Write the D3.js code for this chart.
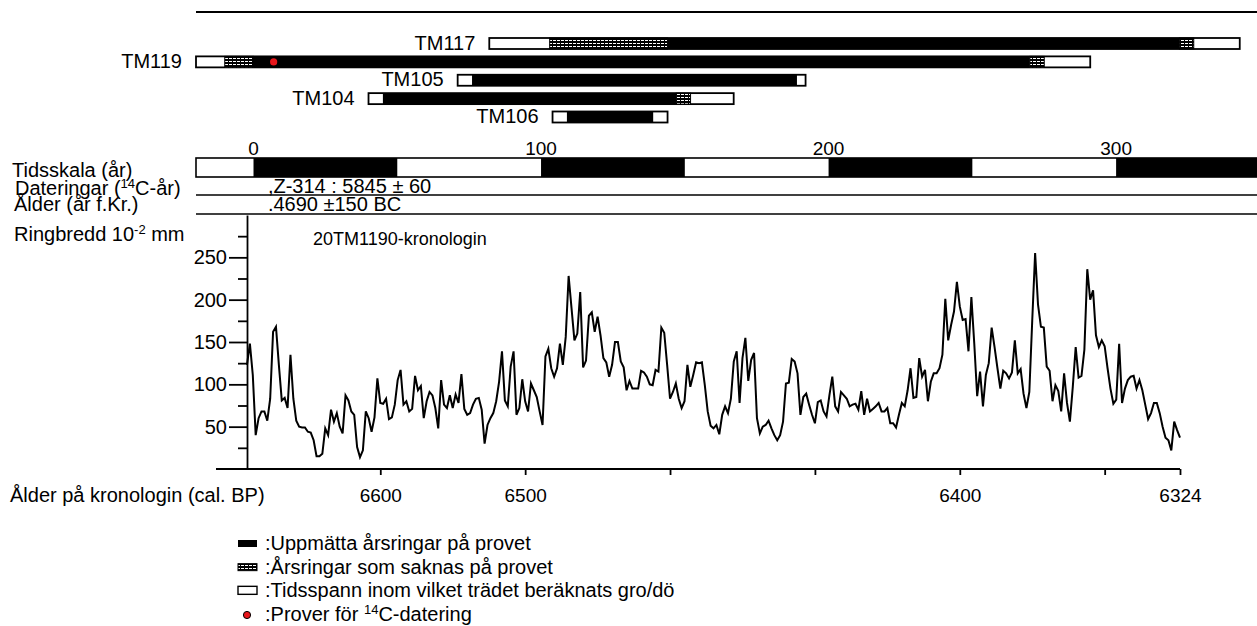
<!DOCTYPE html>
<html>
<head>
<meta charset="utf-8">
<script src="https://cdn.jsdelivr.net/npm/d3@7"></script>
<style>
  body { margin: 0; background: #fff; }
  text { font-family: "Liberation Sans", Arial, sans-serif; fill: #000; }
</style>
</head>
<body>
<svg id="chart" width="1257" height="626"></svg>
<script>
// Ring widths (10^-2 mm) of the 20TM1190 chronology, one value per year,
// from the oldest ring (6646 cal. BP) to the youngest (6324 cal. BP).
const ringWidth = [
  123,148,111,40,60,68,68,57,83,162, 168,123,81,84,72,135,83,57,50,49,
  49,44,43,34,15,15,18,48,40,70, 56,66,50,42,87,81,68,64,26,14,
  22,68,60,44,61,107,78,77,83,59, 61,76,105,117,76,80,68,71,110,93,
  98,60,80,91,87,72,48,105,76,72, 87,72,88,78,112,71,64,66,76,83,
  84,70,30,52,60,66,80,103,139,81, 74,121,139,64,72,106,80,68,101,93,
  85,68,52,133,142,119,109,119,148,123, 156,228,190,152,160,209,120,128,181,185,
  162,180,158,131,126,109,123,150,150,127, 120,93,104,95,95,95,116,114,109,100,
  99,117,115,167,161,123,83,91,101,83, 72,80,123,97,111,126,125,126,99,68,
  51,48,52,41,64,74,66,83,127,139, 78,131,155,104,129,137,60,42,50,52,
  57,48,40,34,40,56,101,102,130,127, 113,64,85,89,76,64,54,79,81,68,
  62,87,109,74,68,91,87,83,74,76, 77,70,92,64,83,68,71,74,78,68,
  68,72,54,54,49,64,78,74,93,119, 84,85,131,109,117,80,103,113,113,119,
  135,201,152,170,186,221,192,176,177,139, 203,148,86,115,74,111,125,167,144,119,
  95,116,113,107,114,152,113,118,89,72, 91,175,255,194,168,167,121,116,80,99,
  92,68,113,78,56,97,144,108,110,141, 236,200,211,158,144,152,145,119,95,77,
  82,148,78,95,105,109,110,95,105,93, 76,59,66,78,78,66,50,37,34,22,
  56,46,37
];
const chronoStartBP = 6646;
const chronoEndBP = 6324;

// Dated samples, positions in years on the time scale (0 = first ring of the chronology)
const samples       = ["TM117", "TM119", "TM105", "TM104", "TM106"];
const spanStart     = [82, -20, 71, 40, 104];   // earliest estimated germination
const missingStart  = [103, -10, 76, 45, 109];  // start of rings missing on the sample
const measuredStart = [144, 0, 76, 45, 109];
const measuredEnd   = [322, 270, 189, 147, 139];
const missingEnd    = [327, 275, 189, 152, 139];
const spanEnd       = [343, 291, 192, 167, 144]; // latest estimated death
const c14Sample = "TM119";
const c14Year = 7;

// Time scale (years) and its alternating 50-year blocks
const timeDomain = [-20, 349];
const timeTicks = [0, 100, 200, 300];
const timeBlockStarts = [0, 100, 200, 300];
const timeBlockLength = 50;

// Dating rows
const datingText = ",Z-314 : 5845 \u00B1 60";
const ageText = ".4690 \u00B1150 BC";

// Ring-width axis
const ringMajorTicks = [50, 100, 150, 200, 250];
const ringMinorTicks = [25, 75, 125, 175, 225, 275];
const ringDomain = [0, 300];

// Calendar axis (cal. BP)
const bpTicks = [6600, 6550, 6500, 6450, 6400, 6350, 6324];
const bpTickLabels = ["6600", "6500", "", "", "6400", "", "6324"];

const legendLabels = [
  ":Uppm\u00E4tta \u00E5rsringar p\u00E5 provet",
  ":\u00C5rsringar som saknas p\u00E5 provet",
  ":Tidsspann inom vilket tr\u00E4det ber\u00E4knats gro/d\u00F6",
  ":Prover f\u00F6r "
];

const svg = d3.select("#chart");
const FONT = 20;

// pattern for missing rings: black grid with small white cells
const defs = svg.append("defs");
const pat = defs.append("pattern")
  .attr("id", "missing").attr("patternUnits", "userSpaceOnUse")
  .attr("width", 4).attr("height", 3);
pat.append("rect").attr("width", 4).attr("height", 3).attr("fill", "#000");
pat.append("rect").attr("x", 1).attr("y", 1).attr("width", 3).attr("height", 1).attr("fill", "#fff");

// ---------- scales ----------
const t = d3.scaleLinear().domain(timeDomain).range([196, 1257]);
const xBP = d3.scaleLinear().domain([chronoStartBP, chronoEndBP]).range([247, 1180]);
const y = d3.scaleLinear().domain(ringDomain).range([469, 215]);
const rowY = d3.scalePoint().domain(samples).range([43.5, 117]);
const barH = 11;

// ---------- top rule ----------
svg.append("line").attr("x1", t(timeDomain[0])).attr("x2", t(timeDomain[1]))
  .attr("y1", 12).attr("y2", 12).attr("stroke", "#000").attr("stroke-width", 1.8);

// ---------- sample bars ----------
const bars = svg.append("g").selectAll("g").data(samples).join("g");
bars.each(function(name, i) {
  const g = d3.select(this);
  const y0 = rowY(name) - barH / 2;
  g.append("rect").attr("x", t(spanStart[i])).attr("y", y0)
    .attr("width", t(spanEnd[i]) - t(spanStart[i])).attr("height", barH)
    .attr("fill", "#fff").attr("stroke", "#000").attr("stroke-width", 1.8);
  if (measuredStart[i] > missingStart[i]) {
    g.append("rect").attr("x", t(missingStart[i])).attr("y", y0)
      .attr("width", t(measuredStart[i]) - t(missingStart[i])).attr("height", barH)
      .attr("fill", "url(#missing)").attr("stroke", "#000").attr("stroke-width", 1);
  }
  if (missingEnd[i] > measuredEnd[i]) {
    g.append("rect").attr("x", t(measuredEnd[i])).attr("y", y0)
      .attr("width", t(missingEnd[i]) - t(measuredEnd[i])).attr("height", barH)
      .attr("fill", "url(#missing)").attr("stroke", "#000").attr("stroke-width", 1);
  }
  g.append("rect").attr("x", t(measuredStart[i])).attr("y", y0)
    .attr("width", t(measuredEnd[i]) - t(measuredStart[i])).attr("height", barH)
    .attr("fill", "#000");
  g.append("text").attr("x", t(spanStart[i]) - 14).attr("y", y0 + barH + 0.5)
    .attr("text-anchor", "end").attr("font-size", FONT).text(name);
});
svg.append("circle").attr("cx", t(c14Year)).attr("cy", rowY(c14Sample))
  .attr("r", 3.6).attr("fill", "#e8161b");

// ---------- time scale ----------
const tsTop = 158, tsH = 19;
svg.append("rect").attr("x", t(timeDomain[0])).attr("y", tsTop)
  .attr("width", t(timeDomain[1]) - t(timeDomain[0])).attr("height", tsH)
  .attr("fill", "#fff").attr("stroke", "#000").attr("stroke-width", 1.6);
svg.append("g").selectAll("rect").data(timeBlockStarts).join("rect")
  .attr("x", d => t(d)).attr("y", tsTop)
  .attr("width", d => t(Math.min(d + timeBlockLength, timeDomain[1])) - t(d))
  .attr("height", tsH).attr("fill", "#000");
svg.append("g").selectAll("text").data(timeTicks).join("text")
  .attr("x", d => t(d)).attr("y", 155).attr("text-anchor", "middle")
  .attr("font-size", 19).text(d => d);

// ---------- dating rows ----------
[195, 214].forEach(yy => {
  svg.append("line").attr("x1", t(timeDomain[0])).attr("x2", t(timeDomain[1]))
    .attr("y1", yy).attr("y2", yy).attr("stroke", "#000").attr("stroke-width", 1.6);
});
svg.append("text").attr("x", t(5)).attr("y", 193).attr("font-size", FONT).text(datingText);
svg.append("text").attr("x", t(5)).attr("y", 211).attr("font-size", FONT).text(ageText);

// ---------- row labels ----------
const lab = svg.append("g").attr("font-size", FONT);
lab.append("text").attr("x", 12).attr("y", 177).text("Tidsskala (\u00E5r)");
const d1 = lab.append("text").attr("x", 15).attr("y", 195);
d1.append("tspan").text("Dateringar (");
d1.append("tspan").attr("font-size", 13).attr("dy", -7).text("14");
d1.append("tspan").attr("dy", 7).text("C-\u00E5r)");
lab.append("text").attr("x", 14).attr("y", 211).text("\u00C5lder (\u00E5r f.Kr.)");
const r1 = lab.append("text").attr("x", 14).attr("y", 241);
r1.append("tspan").text("Ringbredd 10");
r1.append("tspan").attr("font-size", 13).attr("dy", -7).text("-2");
r1.append("tspan").attr("dy", 7).text(" mm");

// ---------- ring-width chart ----------
const yMajor = d3.axisLeft(y).tickValues(ringMajorTicks).tickSize(18).tickSizeOuter(0).tickPadding(2);
const gy = svg.append("g").attr("transform", `translate(${xBP(chronoStartBP)},0)`).call(yMajor);
gy.selectAll("text").attr("font-size", FONT).attr("font-family", "Liberation Sans, Arial, sans-serif").attr("fill", "#000");
gy.selectAll("line, path").attr("stroke", "#000").attr("stroke-width", 1.8);
const yMinor = d3.axisLeft(y).tickValues(ringMinorTicks).tickSize(9).tickSizeOuter(0).tickFormat("");
const gy2 = svg.append("g").attr("transform", `translate(${xBP(chronoStartBP)},0)`).call(yMinor);
gy2.select("path").remove();
gy2.selectAll("line").attr("stroke", "#000").attr("stroke-width", 1.8);

svg.append("line").attr("x1", 216).attr("x2", xBP(chronoEndBP))
  .attr("y1", y(0)).attr("y2", y(0)).attr("stroke", "#000").attr("stroke-width", 1.8);
const xAxis = d3.axisBottom(xBP).tickValues(bpTicks)
  .tickFormat((d, i) => bpTickLabels[i]).tickSize(6).tickSizeOuter(0).tickPadding(14);
const gx = svg.append("g").attr("transform", `translate(0,${y(0)})`).call(xAxis);
gx.select("path").remove();
gx.selectAll("line").attr("stroke", "#000").attr("stroke-width", 1.8);
gx.selectAll("text").attr("font-size", 19).attr("font-family", "Liberation Sans, Arial, sans-serif").attr("fill", "#000");

svg.append("text").attr("x", 10).attr("y", 502).attr("font-size", FONT)
  .text("\u00C5lder p\u00E5 kronologin (cal. BP)");
svg.append("text").attr("x", 313).attr("y", 245).attr("font-size", 18)
  .text("20TM1190-kronologin");

const line = d3.line()
  .x((d, i) => xBP(chronoStartBP - i))
  .y(d => y(d));
svg.append("path").datum(ringWidth).attr("d", line)
  .attr("fill", "none").attr("stroke", "#000").attr("stroke-width", 2)
  .attr("stroke-linejoin", "miter");

// ---------- legend ----------
const legY = d3.scalePoint().domain(d3.range(legendLabels.length)).range([543, 614]);
const leg = svg.append("g");
leg.append("rect").attr("x", 238).attr("y", legY(0) - 3).attr("width", 19).attr("height", 7).attr("fill", "#000");
leg.append("rect").attr("x", 238).attr("y", legY(1) - 3).attr("width", 19).attr("height", 7)
  .attr("fill", "url(#missing)").attr("stroke", "#000").attr("stroke-width", 1);
leg.append("rect").attr("x", 238).attr("y", legY(2) - 4).attr("width", 19).attr("height", 8)
  .attr("fill", "#fff").attr("stroke", "#000").attr("stroke-width", 1.4);
leg.append("circle").attr("cx", 247).attr("cy", legY(3) + 1).attr("r", 3.6)
  .attr("fill", "#e8161b").attr("stroke", "#000").attr("stroke-width", 1);
leg.selectAll("text").data(legendLabels).join("text")
  .attr("x", 265).attr("y", (d, i) => legY(i) + 7).attr("font-size", FONT)
  .each(function(d, i) {
    const tx = d3.select(this);
    tx.append("tspan").text(d);
    if (i === 3) {
      tx.append("tspan").attr("font-size", 13).attr("dy", -7).text("14");
      tx.append("tspan").attr("dy", 7).text("C-datering");
    }
  });
</script>
</body>
</html>
